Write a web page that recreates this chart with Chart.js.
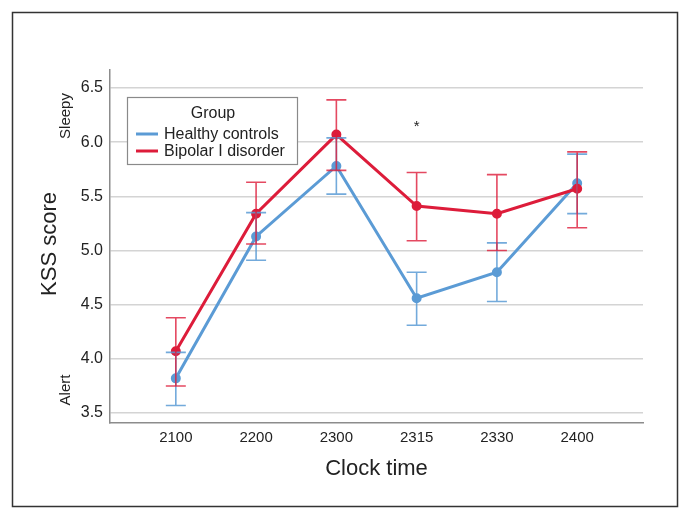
<!DOCTYPE html>
<html>
<head>
<meta charset="utf-8">
<script src="https://cdn.jsdelivr.net/npm/chart.js@4.4.1/dist/chart.umd.min.js"></script>
<style>
html,body{margin:0;padding:0;background:#fff;}
#wrap{width:690px;height:518px;position:relative;}
</style>
</head>
<body>
<div id="wrap"><canvas id="c" width="690" height="518"></canvas></div>
<script>
const timeLabels = ['2100', '2200', '2300', '2315', '2330', '2400'];
const healthyMean = [3.82, 5.13, 5.78, 4.56, 4.80, 5.62];
const healthyUpper = [4.06, 5.35, 6.04, 4.80, 5.07, 5.89];
const healthyLower = [3.57, 4.91, 5.52, 4.31, 4.53, 5.34];
const bipolarMean = [4.07, 5.34, 6.07, 5.41, 5.34, 5.57];
const bipolarUpper = [4.38, 5.63, 6.39, 5.72, 5.70, 5.91];
const bipolarLower = [3.75, 5.06, 5.74, 5.09, 5.00, 5.21];
const yTicks = [3.5, 4.0, 4.5, 5.0, 5.5, 6.0, 6.5];
const seriesNames = ['Healthy controls', 'Bipolar I disorder'];
const starAt = {index: 3, value: 6.17};

const BLUE = 'rgb(91,155,213)';
const RED = 'rgb(221,28,58)';
const FONT = '"Liberation Sans", Arial, Helvetica, sans-serif';

const toXY = arr => arr.map((v, i) => ({x: i, y: v}));

const errorBars = {
  id: 'errorBars',
  afterDatasetsDraw(chart) {
    const ctx = chart.ctx, xs = chart.scales.x, ys = chart.scales.y;
    const sets = [
      {up: healthyUpper, lo: healthyLower, col: 'rgba(91,155,213,0.85)'},
      {up: bipolarUpper, lo: bipolarLower, col: 'rgba(221,28,58,0.8)'}
    ];
    ctx.save();
    ctx.lineWidth = 1.6;
    sets.forEach(s => {
      ctx.strokeStyle = s.col;
      s.up.forEach((u, i) => {
        const px = xs.getPixelForValue(i);
        const pu = ys.getPixelForValue(u), pl = ys.getPixelForValue(s.lo[i]);
        ctx.beginPath();
        ctx.moveTo(px, pu); ctx.lineTo(px, pl);
        ctx.moveTo(px - 10, pu); ctx.lineTo(px + 10, pu);
        ctx.moveTo(px - 10, pl); ctx.lineTo(px + 10, pl);
        ctx.stroke();
      });
    });
    ctx.restore();
  }
};

const decor = {
  id: 'decor',
  beforeDraw(chart) {
    const ctx = chart.ctx;
    ctx.save();
    ctx.fillStyle = '#fff';
    ctx.fillRect(0, 0, 690, 518);
    ctx.strokeStyle = '#333';
    ctx.lineWidth = 1.5;
    ctx.strokeRect(12.5, 12.5, 665, 494);
    ctx.restore();
  },
  afterDraw(chart) {
    const ctx = chart.ctx, xs = chart.scales.x, ys = chart.scales.y;
    ctx.save();
    ctx.fillStyle = '#222';
    ctx.textAlign = 'center';
    ctx.textBaseline = 'middle';
    // x title
    ctx.font = '22px ' + FONT;
    ctx.fillText('Clock time', (chart.chartArea.left + chart.chartArea.right) / 2, 469);
    // y title
    ctx.save();
    ctx.translate(50, 244);
    ctx.rotate(-Math.PI / 2);
    ctx.fillText('KSS score', 0, 0);
    ctx.restore();
    ctx.font = '15px ' + FONT;
    ctx.save();
    ctx.translate(66, 116);
    ctx.rotate(-Math.PI / 2);
    ctx.fillText('Sleepy', 0, 0);
    ctx.restore();
    ctx.save();
    ctx.translate(66, 390);
    ctx.rotate(-Math.PI / 2);
    ctx.fillText('Alert', 0, 0);
    ctx.restore();
    // asterisk
    ctx.font = '15px ' + FONT;
    ctx.fillText('*', xs.getPixelForValue(starAt.index), ys.getPixelForValue(starAt.value) + 3);
    // legend
    ctx.fillStyle = '#fff';
    ctx.fillRect(127, 97, 170, 67);
    ctx.strokeStyle = '#8a8a8a';
    ctx.lineWidth = 1.2;
    ctx.strokeRect(127.5, 97.5, 170, 67);
    ctx.fillStyle = '#222';
    ctx.font = '16px ' + FONT;
    ctx.fillText('Group', 213, 114);
    ctx.textAlign = 'left';
    const cols = [BLUE, RED];
    [134, 151].forEach((y, k) => {
      ctx.strokeStyle = cols[k];
      ctx.lineWidth = 3;
      ctx.beginPath();
      ctx.moveTo(136, y); ctx.lineTo(158, y);
      ctx.stroke();
      ctx.fillText(seriesNames[k], 164, y + 1);
    });
    ctx.restore();
  }
};

new Chart(document.getElementById('c'), {
  type: 'line',
  data: {
    datasets: [
      {label: seriesNames[1], data: toXY(bipolarMean), borderColor: RED, backgroundColor: RED,
       borderWidth: 3, pointRadius: 3.5, pointHoverRadius: 3.5, tension: 0},
      {label: seriesNames[0], data: toXY(healthyMean), borderColor: BLUE, backgroundColor: BLUE,
       borderWidth: 3, pointRadius: 3.5, pointHoverRadius: 3.5, tension: 0}
    ]
  },
  options: {
    responsive: false,
    animation: false,
    devicePixelRatio: 1,
    layout: {padding: {left: 0, top: 70, right: 47, bottom: 0}},
    plugins: {legend: {display: false}, tooltip: {enabled: false}},
    scales: {
      x: {
        type: 'linear',
        min: -0.82, max: 5.82,
        afterFit(s) { s.height = 95; },
        grid: {display: false, drawTicks: false},
        border: {display: true, color: '#8c8c8c', width: 1.5},
        afterBuildTicks(s) { s.ticks = timeLabels.map((_, i) => ({value: i})); },
        ticks: {
          padding: 6, color: '#222', font: {family: FONT, size: 15},
          maxRotation: 0, autoSkip: false,
          callback: v => timeLabels[v]
        }
      },
      y: {
        min: 3.408, max: 6.666,
        afterFit(s) { s.width = 110; },
        afterBuildTicks(s) { s.ticks = yTicks.map(v => ({value: v})); },
        grid: {color: '#d4d4d4', lineWidth: 1.5, drawTicks: false},
        border: {display: true, color: '#8c8c8c', width: 1.5},
        ticks: {
          padding: 7, color: '#222', font: {family: FONT, size: 16},
          callback: v => v.toFixed(1)
        }
      }
    }
  },
  plugins: [decor, errorBars]
});
</script>
</body>
</html>
